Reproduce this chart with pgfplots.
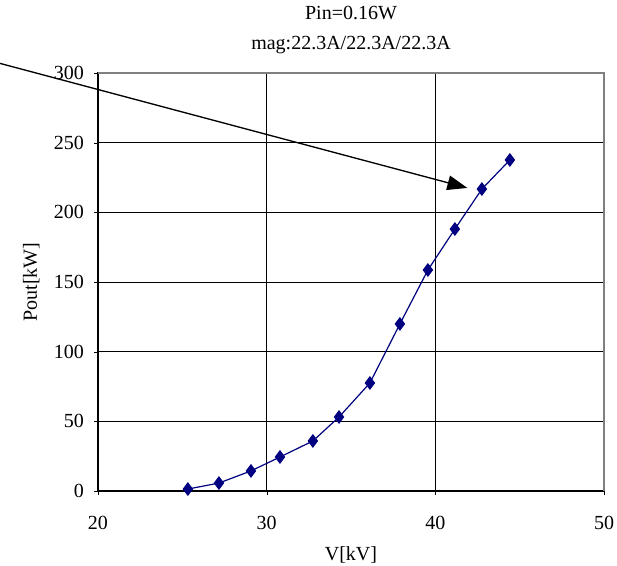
\documentclass[border=0pt]{standalone}
\usepackage{fontspec}
\setmainfont{Liberation Serif}
\usepackage{pgfplots}
\pgfplotsset{compat=1.18}
\usetikzlibrary{arrows.meta}
\definecolor{navyb}{RGB}{0,0,128}
\begin{document}
\begin{tikzpicture}[x=1pt,y=1pt]
\useasboundingbox (-73.5pt,-56.25pt) rectangle (389.25pt,368.25pt);
\begin{axis}[
  scale only axis,
  width=379.5pt, height=313.5pt,
  at={(0,0)}, anchor=south west,
  xmin=20, xmax=50, ymin=0, ymax=300,
  xtick={20,30,40,50}, ytick={0,50,...,300},
  xtick pos=left, ytick pos=left,
  grid=major,
  major grid style={black, line width=0.6pt},
  axis line style={black, line width=0.8pt},
  tick style={black},
  tick align=outside, major tick length=3pt,
  every tick label/.style={font=\fontsize{15}{17}\selectfont},
  /pgf/number format/assume math mode=true,
  xticklabel style={yshift=-12pt},
  yticklabel style={xshift=-4pt},
  xlabel={V[kV]}, ylabel={Pout[kW]},
  label style={font=\fontsize{15}{17}\selectfont},
  xlabel style={yshift=-6pt},
  ylabel style={yshift=4pt},
  clip=false,
  title style={font=\fontsize{15}{22}\selectfont, align=center, yshift=5pt},
  title={Pin=0.16W\\mag:22.3A/22.3A/22.3A},
]
\addplot[navyb, line width=0.9pt, mark=diamond*, mark size=4.5pt, mark options={fill=navyb, draw=navyb}] coordinates {
(25.33,1.4)
(27.17,5.7)
(29.07,14.4)
(30.79,24.4)
(32.74,35.9)
(34.29,53.1)
(36.12,77.5)
(37.90,119.9)
(39.56,158.6)
(41.16,188.0)
(42.76,216.7)
(44.42,237.6)
};
\draw[gray, line width=0.8pt] (rel axis cs:0,1) -- (rel axis cs:1,1) -- (rel axis cs:1,0);
\draw[black, line width=1pt, -{Triangle[length=15pt,width=11pt]}] (axis cs:14.0,307.5) -- (axis cs:41.9,217.5);
\end{axis}
\end{tikzpicture}
\end{document}
